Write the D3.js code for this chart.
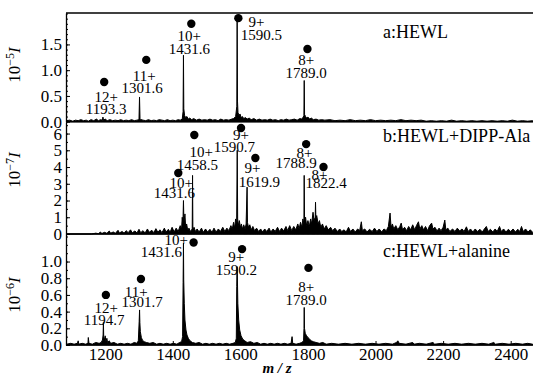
<!DOCTYPE html>
<html lang="en">
<head>
<meta charset="utf-8">
<title>ESI-MS spectra of HEWL</title>
<script src="https://d3js.org/d3.v7.min.js"></script>
<style>
  body { margin: 0; background: #fff; }
  svg { display: block; font-family: "Liberation Serif", "Times New Roman", serif; }
</style>
</head>
<body>
<div id="chart"></div>
<script>
// m/z axis
const mzTicks = [1200, 1400, 1600, 1800, 2000, 2200, 2400];

// panel a: HEWL (10^-5 I)
const specA = [
  [1086,0.02],[1095,0.03],[1104,0.01],[1112,0.03],[1120,0.02],[1128,0.04],[1136,0.02],[1144,0.03],[1150,0.01],
  [1158,0.04],[1166,0.02],[1174,0.05],[1180,0.02],[1186,0.04],[1192,0.03],[1193.3,0.09],[1195,0.03],[1200,0.05],
  [1206,0.02],[1214,0.04],[1222,0.02],[1230,0.03],[1238,0.02],[1246,0.04],[1254,0.02],[1262,0.03],[1270,0.02],
  [1278,0.04],[1286,0.02],[1294,0.03],[1300,0.04],[1301.6,0.48],[1303,0.06],[1306,0.04],[1312,0.03],[1320,0.02],
  [1328,0.04],[1336,0.02],[1344,0.03],[1352,0.02],[1360,0.04],[1368,0.03],[1376,0.02],[1384,0.04],[1392,0.02],
  [1400,0.03],[1408,0.02],[1416,0.04],[1422,0.03],[1428,0.05],[1430.5,0.2],[1431.6,1.29],[1432.6,0.25],[1435,0.12],
  [1438,0.08],[1442,0.1],[1446,0.05],[1450,0.07],[1456,0.04],[1462,0.06],[1470,0.03],[1478,0.05],[1486,0.03],
  [1494,0.04],[1502,0.03],[1510,0.05],[1518,0.03],[1526,0.04],[1534,0.02],[1542,0.05],[1550,0.03],[1558,0.04],
  [1566,0.03],[1574,0.05],[1580,0.06],[1586,0.1],[1589.5,0.3],[1590.5,2.03],[1591.5,0.4],[1593,0.18],[1596,0.12],
  [1599,0.15],[1602,0.08],[1606,0.1],[1610,0.06],[1615,0.08],[1620,0.05],[1626,0.07],[1632,0.04],[1640,0.06],
  [1648,0.03],[1656,0.05],[1664,0.03],[1672,0.04],[1680,0.03],[1688,0.05],[1696,0.03],[1704,0.04],[1712,0.02],
  [1720,0.04],[1728,0.03],[1736,0.05],[1744,0.03],[1752,0.04],[1760,0.05],[1768,0.03],[1776,0.06],[1782,0.05],
  [1786,0.09],[1788,0.12],[1789,0.80],[1790,0.14],[1793,0.1],[1796,0.07],[1800,0.09],[1805,0.05],[1810,0.07],
  [1816,0.04],[1824,0.05],[1832,0.03],[1840,0.04],[1850,0.03],[1865,0.04],[1880,0.02],[1895,0.03],[1910,0.02],
  [1925,0.04],[1940,0.02],[1955,0.03],[1970,0.02],[1985,0.04],[2000,0.02],[2015,0.03],[2030,0.02],[2045,0.03],
  [2060,0.02],[2075,0.04],[2090,0.02],[2105,0.03],[2120,0.02],[2135,0.03],[2150,0.01],[2165,0.02],[2180,0.01],
  [2195,0.02],[2210,0.01],[2225,0.03],[2240,0.01],[2255,0.02],[2270,0.01],[2285,0.02],[2300,0.01],[2315,0.02],
  [2330,0.01],[2345,0.02],[2360,0.01],[2375,0.02],[2390,0.01],[2405,0.03],[2420,0.01],[2435,0.02],[2450,0.01],[2465,0.02]
];
const dotsA = [[1197,0.77],[1321.5,1.20],[1454.8,1.90],[1594,2.01],[1798.5,1.41]];
const labelsA = [
  ["12+",1203,0.48],["1193.3",1203,0.245],
  ["11+",1315.6,0.887],["1301.6",1309.6,0.654],
  ["10+",1448.9,1.664],["1431.6",1448.9,1.41],
  ["9+",1647.4,1.936],["1590.5",1662,1.68],
  ["8+",1794.7,1.198],["1789.0",1794.7,0.946]
];

// panel b: HEWL + DIPP-Ala (10^-7 I)
const specB = [
  [1086,0],[1160,0],[1172,0.05],[1180,0.02],[1186,0.12],[1190,0.03],[1198,0.1],[1205,0.04],[1212,0.18],[1216,0.05],
  [1224,0.12],[1230,0.04],[1238,0.22],[1242,0.06],[1250,0.15],[1256,0.05],[1262,0.2],[1268,0.08],[1275,0.25],
  [1280,0.07],[1288,0.18],[1294,0.06],[1300,0.28],[1305,0.08],[1312,0.2],[1318,0.06],[1325,0.3],[1330,0.1],
  [1338,0.22],[1344,0.08],[1350,0.32],[1356,0.1],[1362,0.25],[1368,0.08],[1375,0.35],[1380,0.12],[1387,0.28],
  [1392,0.1],[1398,0.4],[1404,0.12],[1410,0.35],[1416,0.15],[1422,0.5],[1426,0.3],[1428,1.0],[1430,0.6],
  [1431.6,2.0],[1433,0.7],[1436,1.2],[1438,0.4],[1441,0.6],[1444,0.25],[1448,0.35],[1452,0.15],[1457.5,0.3],
  [1458.5,3.5],[1459.5,0.3],[1463,0.4],[1467,0.15],[1472,0.3],[1478,0.12],[1485,0.35],[1490,0.1],[1497,0.3],
  [1503,0.12],[1510,0.28],[1516,0.1],[1522,0.35],[1528,0.12],[1535,0.3],[1541,0.15],[1548,0.4],[1554,0.15],
  [1560,0.35],[1566,0.2],[1572,0.5],[1576,0.3],[1580,0.7],[1583,0.35],[1586,0.9],[1589,0.6],[1590.7,5.0],
  [1592,0.9],[1594,0.5],[1597,0.8],[1600,0.4],[1603,0.6],[1606,0.3],[1610,0.55],[1614,0.3],[1617,0.6],
  [1619.9,2.8],[1621,0.7],[1624,0.4],[1628,0.55],[1632,0.25],[1637,0.45],[1642,0.2],[1648,0.35],[1654,0.15],
  [1660,0.3],[1666,0.12],[1672,0.3],[1678,0.15],[1685,0.35],[1690,0.12],[1697,0.3],[1703,0.15],[1710,0.4],
  [1716,0.15],[1722,0.35],[1728,0.18],[1735,0.45],[1740,0.2],[1746,0.5],[1752,0.2],[1758,0.45],[1764,0.25],
  [1770,0.6],[1774,0.3],[1778,0.7],[1782,0.4],[1785,0.9],[1788,0.6],[1788.9,3.5],[1790,0.7],[1793,1.0],
  [1796,0.5],[1800,0.8],[1804,0.45],[1808,0.9],[1811,0.6],[1815,1.3],[1818,0.8],[1821.5,1.0],[1822.4,1.9],
  [1823.5,0.9],[1826,1.1],[1830,0.6],[1834,0.8],[1838,0.4],[1843,0.6],[1848,0.3],[1854,0.5],[1860,0.25],
  [1867,0.4],[1873,0.2],[1880,0.35],[1887,0.15],[1894,0.3],[1900,0.15],[1907,0.25],[1913,0.12],[1920,0.4],
  [1926,0.15],[1933,0.3],[1940,0.12],[1947,0.3],[1953,0.2],[1958,0.73],[1961,0.2],[1968,0.3],[1975,0.12],
  [1982,0.28],[1990,0.15],[1997,0.35],[2004,0.15],[2011,0.3],[2018,0.12],[2025,0.3],[2032,0.2],[2038,0.45],
  [2043,1.25],[2046,0.4],[2050,0.6],[2054,0.3],[2060,0.5],[2066,0.25],[2072,0.45],[2076,0.65],[2080,0.25],
  [2086,0.4],[2092,0.2],[2098,0.45],[2104,0.25],[2110,0.55],[2116,0.25],[2121,0.5],[2127,0.73],[2131,0.3],
  [2137,0.5],[2142,0.25],[2148,0.45],[2154,0.2],[2160,0.5],[2166,0.65],[2170,0.3],[2176,0.4],[2182,0.18],
  [2188,0.35],[2194,0.2],[2200,0.4],[2205,0.83],[2208,0.25],[2214,0.35],[2220,0.15],[2228,0.3],[2235,0.15],
  [2242,0.35],[2249,0.18],[2256,0.3],[2262,0.15],[2269,0.43],[2274,0.15],[2281,0.3],[2288,0.12],[2295,0.3],
  [2302,0.15],[2309,0.28],[2316,0.12],[2322,0.3],[2328,0.45],[2333,0.15],[2340,0.28],[2347,0.12],[2354,0.3],
  [2360,0.15],[2367,0.45],[2372,0.15],[2379,0.3],[2386,0.12],[2393,0.28],[2400,0.15],[2407,0.3],[2414,0.12],
  [2421,0.28],[2427,0.15],[2432,0.45],[2437,0.15],[2444,0.3],[2451,0.12],[2458,0.25],[2465,0.1]
];
const dotsB = [[1416.3,3.64],[1463.7,5.91],[1602,6.33],[1644.4,4.54],[1794.7,5.37],[1846,4.0]];
const labelsB = [
  ["10+",1425.2,3.04],["1431.6",1404.4,2.45],
  ["10+",1484.4,4.9],["1458.5",1472.6,4.12],
  ["9+",1602,5.91],["1590.7",1582.2,5.19],
  ["9+",1635.6,3.94],["1619.9",1656.3,3.1],
  ["8+",1789.6,4.84],["1788.9",1765,4.24],
  ["8+",1834,3.52],["1822.4",1854,3.04]
];

// panel c: HEWL + alanine (10^-6 I)
const specC = [
  [1086,0.01],[1098,0.02],[1108,0.01],[1118,0.02],[1120,0.05],[1122,0.01],[1132,0.02],[1142,0.01],[1149,0.02],
  [1150,0.09],[1152,0.02],[1162,0.01],[1172,0.03],[1182,0.02],[1188,0.03],[1192,0.06],[1193.8,0.12],[1194.7,0.27],
  [1195.6,0.1],[1198,0.06],[1200,0.11],[1202,0.04],[1205,0.08],[1207,0.03],[1212,0.05],[1216,0.02],[1226,0.03],
  [1236,0.01],[1246,0.02],[1256,0.01],[1266,0.02],[1276,0.01],[1286,0.03],[1294,0.02],[1298,0.05],[1300.5,0.28],
  [1301.7,0.42],[1302.6,0.27],[1304,0.16],[1307,0.09],[1310,0.06],[1315,0.04],[1322,0.03],[1332,0.02],[1342,0.03],
  [1352,0.01],[1362,0.02],[1372,0.01],[1382,0.02],[1392,0.01],[1402,0.02],[1412,0.01],[1420,0.03],[1426,0.04],
  [1429,0.1],[1430.6,0.75],[1431.6,1.22],[1432.4,0.78],[1434,0.5],[1436,0.3],[1439,0.18],[1442,0.12],[1446,0.08],
  [1451,0.05],[1458,0.03],[1468,0.02],[1478,0.03],[1488,0.01],[1498,0.02],[1508,0.01],[1518,0.02],[1528,0.01],
  [1538,0.02],[1548,0.01],[1558,0.02],[1568,0.01],[1578,0.02],[1585,0.03],[1588,0.08],[1589.3,0.7],[1590.2,0.94],
  [1591,0.86],[1592.5,0.5],[1595,0.3],[1598,0.18],[1602,0.11],[1607,0.07],[1613,0.05],[1620,0.03],[1630,0.04],
  [1640,0.02],[1650,0.03],[1660,0.01],[1670,0.02],[1680,0.01],[1690,0.02],[1700,0.01],[1710,0.02],[1720,0.01],
  [1730,0.02],[1740,0.01],[1750,0.02],[1753,0.1],[1755,0.02],[1765,0.01],[1775,0.02],[1782,0.03],[1787,0.05],
  [1788.3,0.2],[1789,0.45],[1789.8,0.2],[1792,0.14],[1796,0.11],[1800,0.09],[1805,0.07],[1810,0.05],[1816,0.04],
  [1824,0.03],[1834,0.02],[1844,0.03],[1854,0.01],[1870,0.02],[1890,0.01],[1910,0.02],[1930,0.01],[1950,0.02],
  [1970,0.01],[1990,0.02],[2010,0.01],[2030,0.02],[2050,0.01],[2062,0.03],[2066,0.05],[2070,0.02],[2090,0.01],
  [2110,0.03],[2114,0.01],[2130,0.02],[2150,0.01],[2170,0.03],[2175,0.01],[2195,0.02],[2215,0.01],[2235,0.02],
  [2255,0.01],[2275,0.02],[2295,0.01],[2315,0.02],[2335,0.01],[2350,0.03],[2355,0.01],[2375,0.02],[2395,0.01],
  [2415,0.02],[2435,0.01],[2450,0.02],[2465,0.01]
];
const dotsC = [[1202,0.60],[1305.8,0.79],[1461.6,1.228],[1605,1.149],[1801.5,0.924]];
const labelsC = [
  ["12+",1203,0.444],["1194.7",1197,0.30],
  ["11+",1291.9,0.636],["1301.7",1309.6,0.516],
  ["10+",1410.4,1.26],["1431.6",1366,1.116],
  ["9+",1588,1.056],["1590.2",1588,0.90],
  ["8+",1794.7,0.696],["1789.0",1794.7,0.54]
];

const W = 533, H = 378;
const left = 66;
const serif = "Liberation Serif";

const svg = d3.select("#chart").append("svg")
  .attr("width", W).attr("height", H);

const x = d3.scaleLinear().domain([1084, 2466]).range([left, 533]);

const panels = [
  { title: "a:HEWL", exp: "\u22125", spec: specA, dots: dotsA, labels: labelsA,
    yMax: 2.11, bottom: 121.7, top: 13, major: [0, 0.5, 1.0, 1.5], minorStep: 0.1,
    fmt: d3.format(".1f"), titleY: 38, ylabY: 65 },
  { title: "b:HEWL+DIPP-Ala", exp: "\u22127", spec: specB, dots: dotsB, labels: labelsB,
    yMax: 6.69, bottom: 234, top: 122, major: [0, 1, 2, 3, 4, 5, 6], minorStep: 0.5,
    fmt: d3.format("d"), titleY: 142, ylabY: 170 },
  { title: "c:HEWL+alanine", exp: "\u22126", spec: specC, dots: dotsC, labels: labelsC,
    yMax: 1.33, bottom: 345, top: 234, major: [0, 0.2, 0.4, 0.6, 0.8, 1.0], minorStep: 0.1,
    fmt: d3.format(".1f"), titleY: 257, ylabY: 295 }
];

panels.forEach((p, i) => {
  const y = d3.scaleLinear().domain([0, p.yMax]).range([p.bottom, p.top]);
  const g = svg.append("g");

  // spectrum, filled down to the baseline
  g.append("path")
    .datum(p.spec)
    .attr("fill", "#000")
    .attr("stroke", "#000")
    .attr("stroke-width", 1)
    .attr("stroke-linejoin", "round")
    .attr("d", d3.area().x(d => x(d[0])).y0(y(0)).y1(d => y(d[1])));

  // minor ticks, pointing inward
  g.append("g")
    .attr("transform", `translate(${left},0)`)
    .call(d3.axisLeft(y).tickValues(d3.range(0, p.yMax, p.minorStep))
      .tickSizeInner(-2).tickSizeOuter(0).tickFormat(""))
    .call(a => a.select(".domain").remove());

  // major ticks and labels
  const ay = g.append("g")
    .attr("transform", `translate(${left},0)`)
    .call(d3.axisLeft(y).tickValues(p.major).tickSizeInner(-4).tickSizeOuter(0)
      .tickPadding(4).tickFormat(p.fmt));
  ay.select(".domain").attr("stroke-width", 1.3);
  ay.selectAll("text").attr("font-size", 17).attr("font-family", serif).attr("fill", "#000");

  // baseline of the panel
  g.append("line")
    .attr("x1", left).attr("x2", W)
    .attr("y1", y(0)).attr("y2", y(0))
    .attr("stroke", "#000").attr("stroke-width", 1.4);

  if (i === 0) {
    g.append("line")
      .attr("x1", left).attr("x2", W)
      .attr("y1", p.top).attr("y2", p.top)
      .attr("stroke", "#000").attr("stroke-width", 1.3);
  }

  // peak markers
  g.selectAll("circle.pk").data(p.dots).join("circle")
    .attr("class", "pk")
    .attr("cx", d => x(d[0])).attr("cy", d => y(d[1]))
    .attr("r", 4.2).attr("fill", "#000");

  // charge state / m/z annotations
  g.selectAll("text.pk").data(p.labels).join("text")
    .attr("class", "pk")
    .attr("x", d => x(d[1])).attr("y", d => y(d[2]))
    .attr("dy", "0.35em")
    .attr("text-anchor", "middle")
    .attr("font-size", 15)
    .text(d => d[0]);

  // panel title
  g.append("text")
    .attr("x", 383).attr("y", p.titleY)
    .attr("font-size", 18)
    .text(p.title);

  // y axis title: 10^-n I
  const t = g.append("text")
    .attr("transform", `translate(20,${p.ylabY}) rotate(-90)`)
    .attr("text-anchor", "middle")
    .attr("font-size", 17);
  t.append("tspan").text("10");
  t.append("tspan").attr("dy", -6).attr("font-size", 12).text(p.exp);
  t.append("tspan").attr("dy", 6).attr("font-style", "italic").text("I");

  // m/z axis under the last panel
  if (i === panels.length - 1) {
    const ax = g.append("g")
      .attr("transform", `translate(0,${p.bottom})`)
      .call(d3.axisBottom(x).tickValues(mzTicks).tickFormat(d3.format("d"))
        .tickSizeInner(-4).tickSizeOuter(0).tickPadding(3));
    ax.select(".domain").remove();
    ax.selectAll("text").attr("font-size", 17).attr("font-family", serif).attr("fill", "#000");
  }
});

svg.append("text")
  .attr("x", 277).attr("y", 373)
  .attr("text-anchor", "middle")
  .attr("font-size", 15)
  .attr("font-style", "italic")
  .attr("font-weight", "bold")
  .text("m / z");
</script>
</body>
</html>
